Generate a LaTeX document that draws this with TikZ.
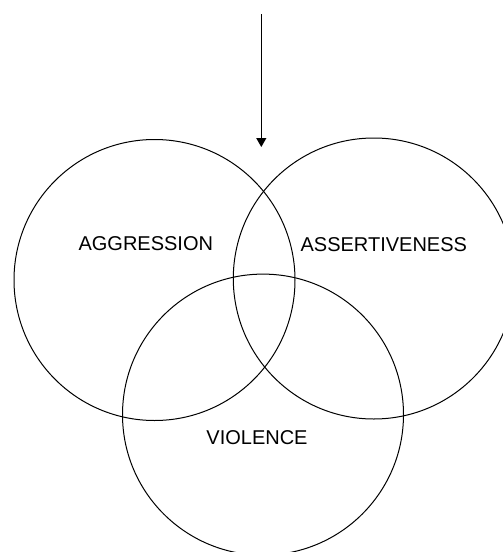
\documentclass[tikz,border=0pt]{standalone}
\usepackage{fontspec}
\setmainfont{Liberation Sans}
\usetikzlibrary{arrows.meta}
\begin{document}
\begin{tikzpicture}[x=1pt,y=-1pt,
  venn/.style={draw=black,line width=1pt,circle,minimum size=281pt,inner sep=0pt},
  lbl/.style={font=\fontsize{20}{24}\selectfont,inner sep=0pt,anchor=center},
  arr/.style={line width=1.2pt,-{Triangle[width=10pt,length=9pt]}}]
\useasboundingbox (0,0) rectangle (503,552);
\clip (0,0) rectangle (503,552);
\node[venn] (agg) at (154.5,280) {};
\node[venn] (ass) at (373.8,278.5) {};
\node[venn] (vio) at (263,414.6) {};
\node[lbl] (taggr) at (145.8,243.3) {AGGRESSION};
\node[lbl] (tass) at (383.8,244.3) {ASSERTIVENESS};
\node[lbl] (tvio) at (257,437.7) {VIOLENCE};
\coordinate (top) at (261.3,14);
\coordinate (tip) at (261.3,147);
\draw[arr] (top) -- (tip);
\end{tikzpicture}
\end{document}
